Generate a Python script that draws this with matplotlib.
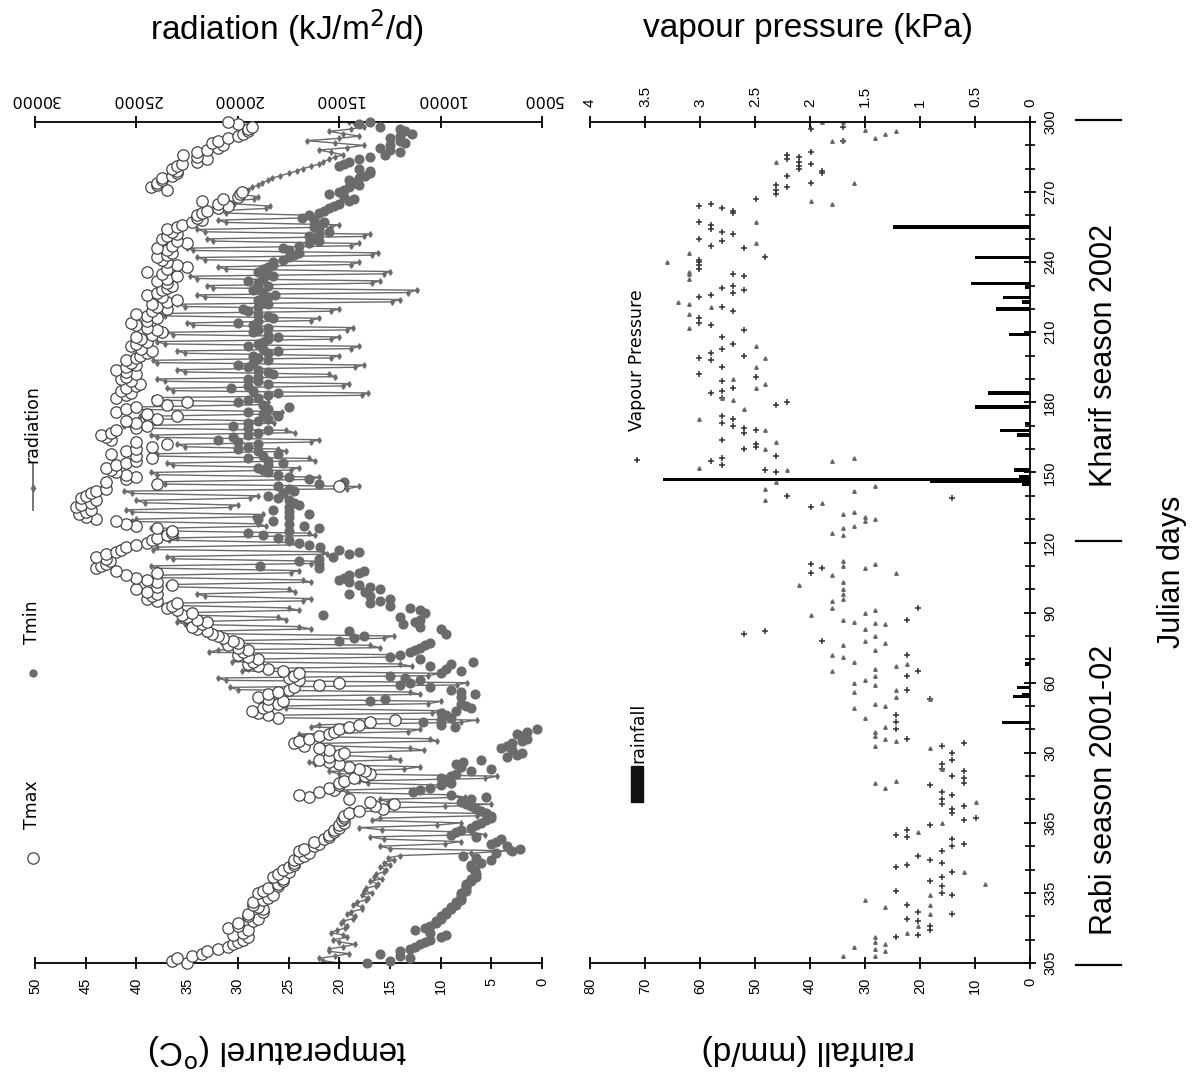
import numpy as np
import matplotlib.pyplot as plt
from matplotlib.font_manager import fontManager

names = {f.name for f in fontManager.ttflist}
NARROW = "Liberation Sans Narrow" if "Liberation Sans Narrow" in names else "Liberation Sans"
plt.rcParams.update({"font.family": ["Liberation Sans", "DejaVu Sans"]})

# ---- data (y = days after Julian day 305 of 2001, one value per day) ----
day_ticks = [0, 30, 60, 90, 120, 150, 180, 210, 240, 270, 300, 330, 360]
day_labels = ["305", "335", "365", "30", "60", "90", "120", "150", "180", "210", "240", "270", "300"]

tmax = [
    35, 36.5, 36, 34.5, 33.5, 33, 32, 31, 30.5, 30,
    29.5, 29, 30.5, 29.5, 29, 31, 30, 30, 28.5, 28,
    29, 29, 27.5, 27.5, 28, 28.5, 28.5, 27.5, 27, 26.5,
    28, 27.5, 27, 26, 26, 25.5, 25.5, 26.5, 26, 25,
    25.5, 25, 24.5, 24.5, 24.5, 24, 23.5, 23, 24, 23.5,
    22.5, 22, 22.5, 21.5, 21, 21, 20.5, 20.5, 20, 20,
    19.5, 19.7, 19.5, 19.5, 19, 18, 15.7, 16.5, 14.6, 17,
    19, 23, 24, 22, 20.5, 21, 20, 20, 19.5, 18.5,
    17.5, 17, 17.5, 18, 19, 20, 21, 22, 21, 20,
    19.5, 21, 22, 23.5, 24.5, 24, 23, 22, 21, 20.5,
    20, 19, 18, 17, 14.5, 26, 27, 28, 28.6, 27.5,
    27, 26, 25.5, 27, 28, 27, 26, 25, 24.5, 22,
    20, 24, 25, 24.5, 24, 25.5, 27, 28, 29, 28.5,
    28, 29, 30, 29.5, 29, 30, 31, 30, 30.5, 31.5,
    32, 32.5, 33, 34, 34.5, 33.5, 33, 34, 35, 35.5,
    34.5, 36, 37, 36.5, 36, 38, 39, 38.5, 38, 39,
    40, 38, 36.5, 38, 39, 40, 41, 38, 42, 44,
    43.5, 43, 42.6, 43, 44, 43, 42, 41.5, 41, 40,
    39, 38.5, 38, 37, 36.5, 36.5, 38, 40, 41, 42,
    44, 45, 45.7, 45, 44.5, 46, 45.5, 44.5, 44, 45.5,
    45, 44.5, 44, 43, 20, 38, 43, 41, 40, 41,
    42, 42.5, 43, 42, 41, 40, 38.5, 40, 42.5, 41,
    40, 38.5, 37, 40, 42.5, 43, 43.5, 42.5, 42, 40,
    39, 40, 41, 38, 36, 39, 42, 41, 40, 37,
    35, 38, 42, 41, 40.5, 41.5, 41, 40, 39.6, 40.5,
    41.5, 41, 40, 41, 42, 41, 40, 40.5, 41, 40,
    39.6, 39, 38.5, 39.5, 40.5, 40, 39, 39.5, 40, 38.5,
    37.5, 38, 39, 40, 40.5, 39, 38, 39, 40, 38.5,
    37, 38, 38.5, 37, 36, 37.5, 39, 38, 37.5, 37,
    36.5, 37, 38, 37, 36, 37.5, 39, 37, 35, 36,
    37, 37.5, 38, 37, 36.5, 37, 38, 36.5, 35, 36,
    37.5, 37, 36, 36.5, 37, 36, 35.5, 34.5, 33.5, 34,
    34, 33.5, 33, 32, 31, 32, 33.5, 31.5, 30, 29.8,
    29.6, 37, 38.6, 38, 38, 37.5, 37.5, 36.5, 36, 36,
    36.5, 36, 35.5, 34, 33, 34, 35.4, 34, 33, 32,
    31.5, 32.5, 32, 31, 30, 29.5, 29, 29, 28.6, 30,
    31]

tmin = [
    17.3, 15, 13, 14, 16, 14, 13, 12.5, 12, 11.5,
    11, 10, 9.5, 11, 12.5, 11.5, 11, 10.5, 10.5, 10,
    10, 9.5, 9.5, 9, 9, 8.5, 8.5, 8, 8, 8,
    8, 7.5, 7.5, 7.5, 7.5, 7, 7, 6.5, 6.5, 6.6,
    6.6, 7, 7, 6, 5, 6.5, 7.8, 4.5, 3, 2.2,
    3.5, 5, 4.5, 4, 6.5, 9, 8.5, 8, 7, 6.5,
    6, 5.5, 5, 5, 5.5, 6, 6.5, 7, 7.5, 8,
    7, 5.5, 9, 12.7, 12, 11, 10, 9, 9.5, 10,
    9, 8.5, 7, 5, 8, 8.5, 7.8, 6, 3.5, 2.5,
    2, 3, 4, 3.5, 3, 2, 1.5, 2, 2.5, 1.5,
    0.5, 8.6, 10, 11.7, 10, 9, 9.5, 10, 8.5, 7,
    7.5, 8, 17, 15.5, 8, 6.6, 8, 9, 11, 14,
    13, 12, 13.5, 15, 10, 8, 9.5, 11, 9, 6.8,
    12, 15, 14, 13, 12.5, 12, 11.5, 11, 20, 18.5,
    17.6, 9.5, 19, 10, 12, 13.7, 12.5, 12, 14, 21.6,
    11.5, 12, 13, 15, 17, 16, 15, 17, 19, 17.5,
    16, 17, 18, 19, 20, 19.5, 19, 18, 17.6, 22,
    27.8, 22, 24, 22, 20.6, 19, 18, 20, 21.9, 23,
    24, 25, 26, 27.5, 29, 25, 22, 23.5, 25, 26.5,
    28, 25, 23, 25, 26.5, 25, 24, 24.5, 25, 26,
    27, 25.5, 24.5, 25, 26, 22, 19.5, 23, 25, 26,
    27, 27.5, 28, 27, 25.5, 27, 29, 27.5, 26, 28,
    30, 29, 28, 30, 32, 30.5, 29, 28, 27, 29,
    30.5, 29, 28, 27, 26, 27.5, 29, 27, 25, 27.5,
    30, 29, 28, 27, 26, 28.5, 30.7, 29, 27, 28,
    29, 28, 26.5, 27, 28, 29, 30, 28.5, 27, 28,
    28.5, 27, 26, 27.5, 29, 28, 27.5, 27, 26, 27,
    28.5, 28, 27, 28.5, 30, 28, 26.5, 27, 28, 29,
    29.5, 28, 27, 27.5, 28, 27, 26.3, 27.5, 28.5, 28,
    27, 28, 29, 27.5, 26.5, 27, 28, 27.5, 27, 26.5,
    26.5, 25.5, 25, 24.5, 24, 25, 25.5, 24, 23, 22,
    22.5, 23, 22, 21, 22, 22.5, 22, 21.5, 22.5, 23.7,
    23, 22, 21.5, 21, 20.5, 20, 19, 18.5, 19.5, 21,
    20, 19.5, 19, 18, 18.5, 19, 18, 17.5, 17, 17,
    18, 20, 19.5, 19, 18, 17, 15.5, 14, 15, 16,
    15, 13.5, 14, 15, 14, 12.8, 13.5, 14, 16, 18,
    17]

radiation = [
    15000, 15800, 16000, 15200, 14500, 15500, 15500, 14800, 14200, 15000,
    15300, 14600, 14800, 15400, 15100, 14700, 14600, 14900, 14800, 14300,
    14200, 14600, 14400, 13900, 13900, 14300, 14100, 13700, 13600, 13900,
    13400, 13800, 13700, 13200, 13100, 13500, 12900, 13300, 13200, 12800,
    12700, 13000, 12500, 12800, 12300, 12600, 12000, 8500, 6700, 12500,
    13000, 9800, 9000, 12800, 13500, 7800, 8500, 12900, 14000, 10200,
    9000, 13400, 13000, 8200, 8000, 14000, 14500, 9800, 7500, 12600,
    13000, 8800, 9500, 14600, 15000, 10400, 9500, 13600, 14000, 7800,
    7200, 15000, 15500, 11800, 11000, 16200, 16500, 12000, 12500, 15400,
    15000, 10800, 11500, 15800, 16000, 10200, 10500, 16800, 17000, 11600,
    11000, 16400, 16000, 9000, 8200, 18200, 18700, 10400, 9900, 17600,
    18000, 10600, 10000, 18600, 19000, 11000, 11500, 20000, 20400, 9200,
    8700, 20600, 21000, 10600, 10000, 19800, 19500, 11400, 12000, 20300,
    20000, 12000, 12500, 21400, 21000, 13000, 13500, 20800, 20500, 12800,
    12300, 21600, 22000, 16400, 17000, 22600, 23000, 17600, 18000, 22800,
    22500, 17000, 17500, 23000, 23300, 16800, 16400, 21600, 22000, 17200,
    17500, 23200, 23500, 16400, 16800, 24200, 24000, 17400, 17000, 24000,
    24300, 16400, 16000, 23200, 23500, 15600, 15800, 24200, 24000, 17000,
    17500, 23400, 23000, 16200, 16500, 24000, 24300, 18600, 19000, 25200,
    25000, 19200, 18750, 25200, 25500, 20400, 20000, 24600, 25000, 19400,
    19000, 25200, 25600, 14600, 14000, 23600, 24000, 16400, 16000, 24000,
    24300, 17400, 17000, 23200, 23500, 16200, 16500, 24200, 24000, 17600,
    18000, 22600, 23000, 16400, 16000, 24000, 24300, 17200, 17600, 25200,
    25600, 18200, 18500, 24600, 24800, 18200, 17800, 25000, 25200, 18800,
    18500, 24000, 24200, 13900, 13600, 23200, 23500, 14800, 14500, 23600,
    24000, 15200, 15500, 22600, 23000, 14200, 13800, 24000, 24200, 15400,
    15000, 22600, 23000, 14400, 14000, 23600, 24000, 15400, 15000, 23200,
    23500, 14600, 14300, 22200, 22500, 16400, 16000, 23600, 24000, 15400,
    15000, 22600, 23000, 12400, 12000, 21600, 22000, 11600, 11150, 21200,
    21500, 13400, 13000, 22000, 22350, 12800, 12500, 20600, 21000, 14400,
    14000, 21600, 22000, 13400, 13100, 22200, 22500, 14400, 14000, 21200,
    21500, 13800, 13500, 21600, 22000, 15400, 15000, 20600, 21000, 16400,
    16000, 20600, 20900, 18600, 18400, 20200, 20500, 19200, 19000, 19800,
    19700, 19500, 19300, 19000, 18800, 18500, 18300, 17900, 17500, 17100,
    16800, 16400, 16000, 15800, 15500, 15200, 14800, 15400, 16000, 14600,
    13800, 15200, 16600, 15000, 14000, 14800, 15500, 14400, 13800, 14200,
    14500]

vp_pts = [(11,1.22),(12,1.02),(14,0.91),(16,0.91),(18,1.02),(19,1.12),(21,0.71),(22,1.02),(25,1.12),(29,0.71),
          (30,0.8),(31,1.22),(33,0.8),(35,0.91),(37,0.8),(39,0.71),(41,1.22),(42,1.12),(43,0.8),(44,0.91),(46,1.02),
          (48,0.8),(50,0.71),(51,0.6),(53,0.71),(54,1.12),(55,1.22),(57,1.12),(59,0.91),(61,0.6),(62,0.49),(64,0.71),
          (66,0.71),(67,0.6),(68,0.8),(70,0.8),(72,0.71),(73,0.8),(76,0.91),(77,0.6),(79,0.6),(80,0.71),(82,0.6),
          (83,0.8),(85,0.8),(87,0.71),(90,0.71),(93,0.8),(94,0.6),(96,1.12),(100,1.22),(103,1.22),(106,1.22),
          (113,0.91),(117,1.12),(123,1.12),(125,1.02),(132,1.12),(138,1.89),(141,2.6),(142,2.41),(147,1.12),
          (152,1.02),(167,1.99),(169,1.89),(171,1.99),(195,1.99),(199,0.71),(200,2.21),(210,2.31),(211,2.41),
          (213,2.8),(215,2.9),(216,2.8),(217,2.31),(220,2.6),(221,2.49),(222,2.49),(224,2.8),(227,2.6),(228,2.49),
          (229,2.6),(230,2.7),(231,2.8),(233,2.7),(234,2.8),(239,2.31),(240,2.21),(242,2.8),(244,2.9),(245,2.8),
          (246,2.7),(249,2.8),(251,2.49),(252,3.01),(255,2.8),(258,2.9),(259,3.01),(260,2.6),(261,2.9),(263,2.8),
          (265,2.7),(268,2.8),(271,2.6),(273,2.9),(274,3.01),(276,3.01),(279,2.7),(281,2.8),(285,3.01),(286,2.9),
          (287,2.7),(288,2.6),(289,2.8),(290,2.7),(294,2.6),(295,2.7),(297,3.01),(299,3.01),(300,3.01),(301,3.01),
          (302,2.41),(306,2.6),(307,2.9),(309,2.8),(310,3.01),(312,2.7),(313,2.8),(314,2.9),(316,2.9),(317,3.01),
          (321,2.7),(322,2.7),(323,2.8),(324,3.01),(325,2.9),(327,2.49),(329,2.31),(331,2.31),(332,2.21),(333,2.31),
          (334,1.99),(337,2.21),(338,1.89),(339,1.89),(340,2.1),(341,2.1),(342,1.99),(343,2.1),(344,2.21),
          (345,2.1),(346,2.21),(347,1.99),(352,1.7),(357,1.99),(358,1.7)]

vp_tri_pts = [(3,1.7),(3,1.41),(5,1.32),(6,1.41),(7,1.6),(8,1.32),(9,1.41),(11,1.41),(13,1.12),(16,1.02),(21,0.91),
              (24,1.32),(25,0.91),(27,1.5),(29,0.91),(34,0.41),(39,0.6),(56,1.02),(60,0.8),(69,0.49),(75,1.32),
              (77,1.41),(78,1.22),(83,0.8),(92,0.91),(93,1.41),(95,1.22),(96,1.32),(97,1.41),(99,1.41),(101,1.32),
              (105,1.5),(109,1.6),(110,1.32),(111,1.41),(113,0.91),(114,1.22),(116,1.6),(117,1.22),(119,1.41),
              (120,1.6),(121,1.5),(123,1.41),(125,1.8),(126,1.41),(127,1.22),(128,1.12),(129,1.6),(131,1.7),
              (132,1.8),(134,1.41),(136,1.7),(137,1.32),(138,1.5),(140,1.41),(143,1.5),(145,1.32),(145.5,1.41),
              (146,1.6),(147,1.7),(149,1.99),(150,1.5),(151,1.41),(152,1.8),(155,1.8),(156,1.7),(158,1.7),(160,1.7),
              (162,2.1),(163,1.7),(166,1.8),(167,1.22),(169,1.5),(170,1.7),(171,1.41),(172,1.7),(183,1.7),(184,1.8),
              (186,1.7),(187,1.6),(189,1.5),(190,1.41),(191,1.5),(192,1.7),(193,1.6),(197,1.89),(198,2.41),(202,1.6),
              (203,2.41),(204,1.41),(206,2.31),(211,2.21),(212,3.01),(215,1.8),(216,1.6),(220,2.41),(223,2.31),
              (228,2.41),(233,3.01),(237,2.6),(241,2.7),(242,2.8),(246,2.49),(248,2.41),(250,2.7),(255,2.49),
              (259,2.41),(264,2.49),(272,3.1),(278,3.1),(281,2.9),(282,3.1),(283,3.2),(293,3.1),(295,3.1),(296,3.1),
              (300,3.3),(304,3.1),(308,2.49),(317,2.49),(325,1.8),(326,1.99),(334,1.6),(343,2.31),(352,1.8),
              (352.5,1.7),(353,1.41),(355,1.32),(356,1.22),(356.5,1.5),(360,1.89),(360,1.7)]

rain_pts = [(103,5.1),(114,3.1),(115,1.5),(118,2.4),(128,0.9),(205,1.5),(206,18.2),(207,66.7),(208,2.0),(211,3.0),
            (226,2.4),(228,5.5),(231,1.0),(238,10.0),(244,7.6),(269,3.8),(280,6.2),(283,1.5),(285,4.9),(289,1.0),
            (291,10.7),(302,10.0),(315,24.9)]

day = np.arange(len(tmax))
vp_day, vp = np.array(vp_pts).T
tri_day, tri = np.array(vp_tri_pts).T
rain_day, rain = np.array(rain_pts).T

# ---- figure ----
W, H = 1196, 1084
fig = plt.figure(figsize=(W / 100, H / 100), dpi=100)


def fx(px):
    return px / W


def fy(py):
    return 1 - py / H


GRAY = "#6b6b6b"
tick_kw = dict(direction="inout", length=9, width=1.3, colors="black")

# |>- temperature / radiation panel -<|
ax1 = fig.add_axes([fx(35), fy(963), fx(542) - fx(35), fy(122) - fy(963)])
ax1r = ax1.twiny()

ax1r.plot(radiation, np.arange(len(radiation)), color=GRAY, lw=1.0, marker="d", ms=2.8, mec=GRAY, mfc=GRAY, zorder=2)
ax1.plot(tmin, day, "o", ms=6.3, color=GRAY, mec=GRAY, zorder=3, clip_on=False)
ax1.plot(tmax, day, "o", ms=8.2, mfc="white", mec="#444444", mew=0.9, zorder=4, clip_on=False)
ax1.set_zorder(ax1r.get_zorder() + 1)
ax1.patch.set_visible(False)

ax1.set_xlim(50, 0)
ax1.set_ylim(0, 360)
ax1r.set_xlim(30000, 5000)
ax1.set_xticks(np.arange(0, 51, 5))
ax1.tick_params(axis="x", labelrotation=90, pad=6, labelsize=10.5, **tick_kw)
ax1.set_yticks([])
ax1r.set_xticks(np.arange(5000, 30001, 5000))
ax1r.tick_params(axis="x", labelrotation=180, pad=6, **tick_kw)
for lab in ax1r.get_xticklabels():
    lab.set_fontfamily("DejaVu Sans")
    lab.set_fontsize(11.5)
for s in ["top", "left", "right"]:
    ax1.spines[s].set_visible(False)
for s in ["bottom", "left", "right"]:
    ax1r.spines[s].set_visible(False)
ax1.spines["bottom"].set_linewidth(1.3)
ax1r.spines["top"].set_linewidth(1.3)

# |>- rainfall / vapour pressure panel -<|
ax2 = fig.add_axes([fx(590), fy(963), fx(1030) - fx(590), fy(122) - fy(963)])
ax2v = ax2.twiny()

ax2.barh(rain_day, rain, height=1.4, color="black", zorder=3)
ax2v.plot(vp, vp_day, "+", ms=5, mew=1.1, color="#333333", zorder=2)
ax2v.plot(tri, tri_day, "^", ms=2.5, color="#666666", mec="#666666", zorder=2)

ax2.set_xlim(80, 0)
ax2.set_ylim(0, 360)
ax2v.set_xlim(4, 0)
ax2.set_xticks(np.arange(0, 81, 10))
ax2.tick_params(axis="x", labelrotation=90, pad=6, labelsize=10.5, **tick_kw)
ax2v.set_xticks(np.arange(0, 4.01, 0.5))
ax2v.set_xticklabels(["0", "0.5", "1", "1.5", "2", "2.5", "3", "3.5", "4"])
ax2v.tick_params(axis="x", labelrotation=90, pad=6, labelsize=11, **tick_kw)
ax2.yaxis.tick_right()
ax2.set_yticks(day_ticks)
ax2.set_yticklabels(day_labels, fontfamily=NARROW)
ax2.set_yticks(np.arange(0, 361, 10), minor=True)
ax2.tick_params(axis="y", which="major", labelrotation=90, pad=5, labelsize=10.5, **tick_kw)
ax2.tick_params(axis="y", which="minor", direction="inout", length=7, width=1.2)
for lab in ax2.get_yticklabels():
    lab.set_verticalalignment("center")
for s in ["top", "left"]:
    ax2.spines[s].set_visible(False)
for s in ["bottom", "left", "right"]:
    ax2v.spines[s].set_visible(False)
for s in ["bottom", "right"]:
    ax2.spines[s].set_linewidth(1.3)
ax2v.spines["top"].set_linewidth(1.3)

# |>- axis titles -<|
fig.text(fx(287), fy(28), "radiation (kJ/m$^2$/d)", fontsize=24, ha="center", va="center")
fig.text(fx(808), fy(28), "vapour pressure (kPa)", fontsize=24, ha="center", va="center")
fig.text(fx(278), fy(1050), r"temperaturel ($^{\rm o}$C)", fontsize=24, ha="center", va="center", rotation=180)
fig.text(fx(808), fy(1050), "rainfall (mm/d)", fontsize=24, ha="center", va="center", rotation=180)

fig.text(fx(1104), fy(790), "Rabi season 2001-02", fontsize=22, family=NARROW, ha="center", va="center", rotation=90)
fig.text(fx(1104), fy(355), "Kharif season 2002", fontsize=22, family=NARROW, ha="center", va="center", rotation=90)
fig.text(fx(1172), fy(572), "Julian days", fontsize=22, family=NARROW, ha="center", va="center", rotation=90)

# season separators
for py in [965, 541, 120]:
    fig.add_artist(plt.Line2D([fx(1076), fx(1121)], [fy(py), fy(py)], color="black", lw=1.6))

# |>- legends (drawn by hand, rotated) -<|
LEG = dict(fontsize=12.5, family="DejaVu Sans", ha="center", va="center", rotation=90)
fig.add_artist(plt.Line2D([fx(33)], [fy(858)], marker="o", ms=8.2, mfc="white", mec="#444444", mew=0.9))
fig.text(fx(32), fy(805), "Tmax", **LEG)
fig.add_artist(plt.Line2D([fx(33)], [fy(673)], marker="o", ms=5, color=GRAY))
fig.text(fx(32), fy(622), "Tmin", **LEG)
fig.add_artist(plt.Line2D([fx(33), fx(33)], [fy(510), fy(463)], color=GRAY, lw=1.3))
fig.add_artist(plt.Line2D([fx(33)], [fy(488)], marker="d", ms=3.5, color=GRAY))
fig.text(fx(32), fy(424), "radiation", **LEG)

fig.add_artist(plt.Rectangle((fx(631), fy(802)), fx(12), fy(766) - fy(802), color="#111111"))
fig.text(fx(638), fy(733), "rainfall", **LEG)
fig.add_artist(plt.Line2D([fx(637)], [fy(460)], marker="+", ms=5, mew=1.1, color="#333333"))
fig.text(fx(637), fy(360), "Vapour Pressure", **LEG)

fig.savefig("out.png", dpi=100)
